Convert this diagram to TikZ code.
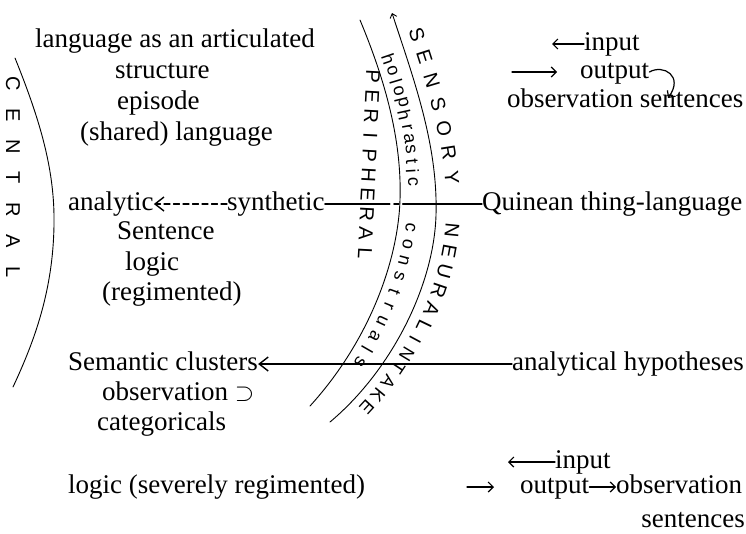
\documentclass[tikz,border=0pt]{standalone}
\usepackage{fontspec}
\setmainfont{Liberation Serif}
\setsansfont{Liberation Sans}
\usetikzlibrary{arrows.meta,decorations.markings,positioning}

% the three hand-drawn curves
\newcommand\centralarc{(15,58) .. controls (40,120) and (55,170) .. (54,225) .. controls (53,290) and (35,340) .. (13,387)}
\newcommand\innerarc{(360,20) .. controls (385,80) and (402,140) .. (400,200) .. controls (398,260) and (370,340) .. (310,406)}
\newcommand\outerarc{(392,13) .. controls (414,80) and (438,145) .. (436,215) .. controls (434,285) and (392,370) .. (330,422)}

\begin{document}
\begin{tikzpicture}[x=1pt, y=-1pt, line join=round, line cap=round,
  txt/.style={font=\fontsize{27}{30}\selectfont, text height=18pt, text depth=6pt, anchor=base west, inner sep=0pt},
  hand/.style={font=\fontsize{20}{20}\sffamily, inner sep=0pt},
  handlow/.style={font=\fontsize{18}{18}\sffamily, inner sep=0pt},
  arcline/.style={line width=0.9pt},
  link/.style={line width=1.2pt},
  bigtip/.style={-{Straight Barb[length=9pt,width=14pt,line width=1.4pt]}},
  smalltip/.style={-{Straight Barb[length=5pt,width=10pt]}}]
\useasboundingbox (0,0) rectangle (746,533);

% curves
\draw[arcline] \centralarc;
\draw[arcline] \innerarc;
\draw[arcline, {Straight Barb[length=4pt,width=7pt]}-] \outerarc;

% hand lettering
\foreach \ch [count=\i] in {C,E,N,T,R,A,L}
  \node[hand, rotate=-90] (central\i) at (13,52+31.5*\i) {\ch};
\foreach \ch [count=\i] in {P,E,R,I,P,H,E,R,A,L}
  \node[hand, rotate=-93] (periph\i) at (373.9-0.89*\i,57.4+19.6*\i) {\ch};
\foreach \ch/\s in {h/46,o/58,l/69,o/79,p/91,h/103,r/115,a/126,s/137,t/148,i/158,c/168,
                    c/212,o/228,n/244,s/260,t/275,r/290,u/306,a/322,l/337,s/351}
  \path[decorate, decoration={markings, mark=at position \s pt with {\node[handlow, transform shape] at (0pt,13pt) {\ch};}}] \innerarc;
\foreach \ch/\s in {S/28,E/52,N/76,S/100,O/124,R/148,Y/172,
                    N/222,E/241,U/260,R/279,A/298,L/316}
  \path[decorate, decoration={markings, mark=at position \s pt with {\node[hand, transform shape] at (0pt,17pt) {\ch};}}] \outerarc;
\foreach \ch/\s in {I/331,N/347,T/363,A/379,K/395,E/411}
  \path[decorate, decoration={markings, mark=at position \s pt with {\node[handlow, transform shape] at (0pt,15pt) {\ch};}}] \outerarc;

% left column
\node[txt] (lang) at (35,47) {language as an articulated};
\node[txt] (struct) at (115,78) {structure};
\node[txt] (episode) at (117,109) {episode};
\node[txt] (shared) at (80,140) {(shared) language};
\node[txt] (analytic) at (68,210) {analytic};
\node[txt] (synthetic) at (227,210) {synthetic};
\node[txt] (sentence) at (117,239) {Sentence};
\node[txt] (logic) at (125,270) {logic};
\node[txt] (regim) at (102,300) {(regimented)};
\node[txt] (semantic) at (68,370) {Semantic clusters};
\node[txt] (observ) at (102,400) {observation $\supset$};
\node[txt] (categ) at (97,430) {categoricals};
\node[txt] (severe) at (68,493) {logic (severely regimented)};

% right column
\node[txt] (inA) at (584,50) {input};
\node[txt] (outA) at (580,78) {output};
\node[txt] (obsA) at (507,107) {observation sentences};
\node[txt] (quinean) at (482,210) {Quinean thing-language};
\node[txt] (hyp) at (512,370) {analytical hypotheses};
\node[txt] (inB) at (555,468) {input};
\node[txt] (outB) at (520,493) {output};
\node[txt] (obsB) at (616,493) {observation};
\node[txt, anchor=base east] (sentB) at (745,527) {sentences};

\coordinate (inAend) at (552,44);
\coordinate (outAbeg) at (512,72);
\coordinate (outAend) at (557,72);
\coordinate (curlEnd) at (668,98);
\coordinate (inBend) at (508,462);
\coordinate (outBbeg) at (467,487);
\coordinate (outBend) at (494,487);

% connectors
\draw[link, bigtip, dash pattern=on 6pt off 3.5pt] (synthetic.west) -- (analytic.east);
\draw[link] (synthetic.east) -- ++(60pt,0) coordinate (gapA);
\draw[link, dash pattern=on 5pt off 4pt] (gapA) -- ++(18pt,0) coordinate (gapB);
\draw[link] (gapB) -- (quinean.west);
\draw[link, bigtip] (hyp.west) -- (semantic.east);
\draw[link, smalltip] (inA.west) -- (inAend);
\draw[link, smalltip] (outAbeg) -- (outAend);
\draw[link, smalltip] (outA.east) .. controls +(14pt,8pt) and (684,76) .. (curlEnd);
\draw[link, smalltip] (inB.west) -- (inBend);
\draw[link, smalltip] (outBbeg) -- (outBend);
\draw[link, smalltip] (outB.east) -- (obsB.west);
\end{tikzpicture}
\end{document}
